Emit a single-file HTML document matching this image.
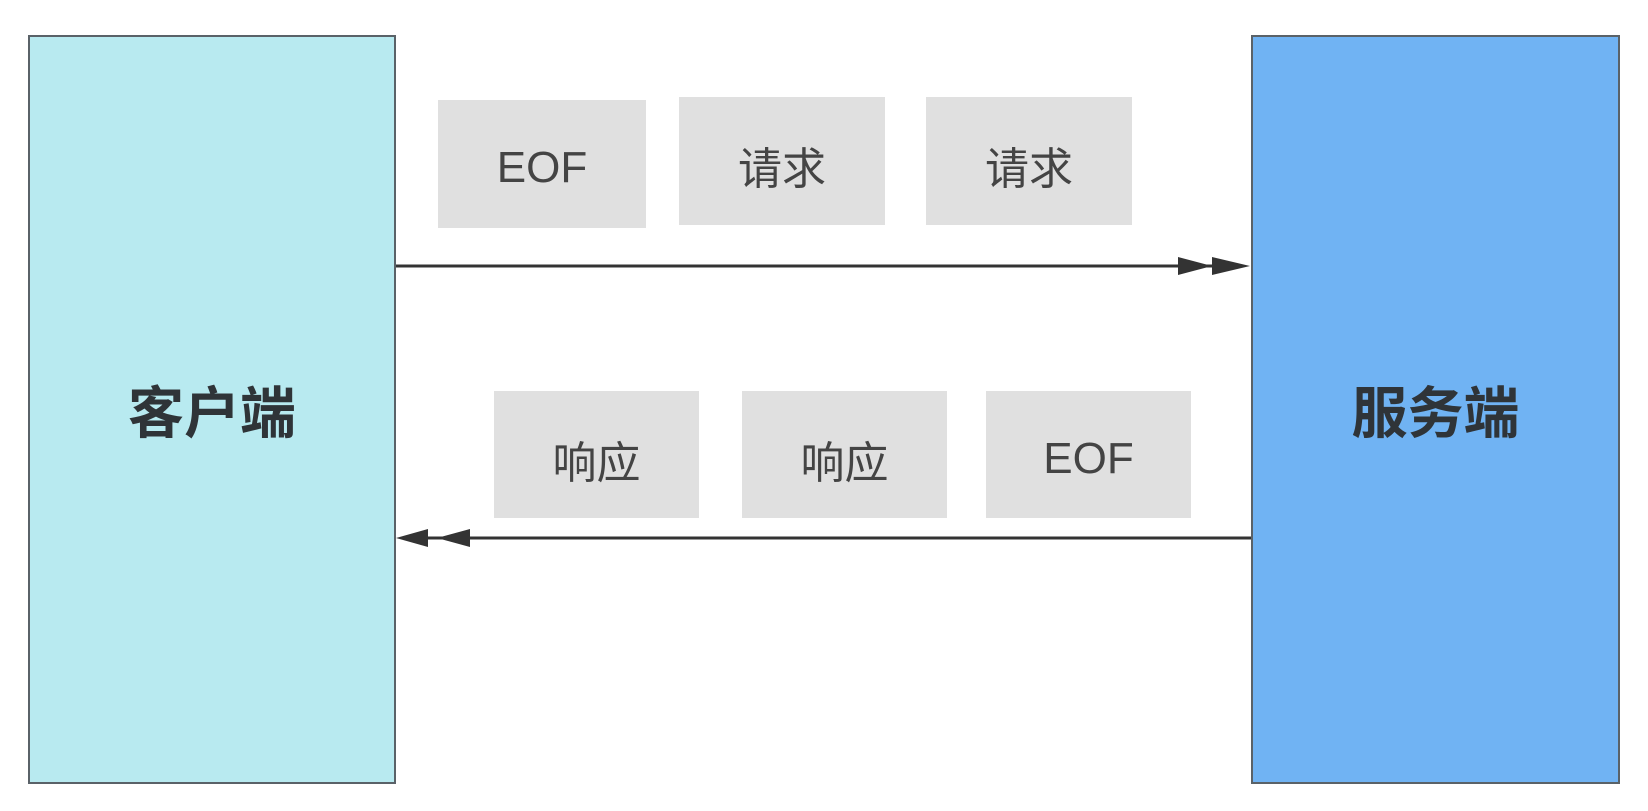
<!DOCTYPE html>
<html><head><meta charset="utf-8"><style>
body{margin:0;width:1648px;height:811px;background:#fff;position:relative;overflow:hidden;font-family:"Liberation Sans","Noto Sans CJK SC",sans-serif}
.b{position:absolute;box-sizing:border-box;border:2px solid #5a6268;display:flex;align-items:center;justify-content:center;font-size:56px;color:#2f3438;font-weight:bold}
.g{position:absolute;background:#e0e0e0;display:flex;align-items:center;justify-content:center;font-size:44px;color:#444;box-sizing:border-box;padding-top:8px}
</style></head><body>
<div class="b" style="left:28px;top:35px;width:368px;height:749px;background:#b8eaf0">客户端</div>
<div class="b" style="left:1251px;top:35px;width:369px;height:749px;background:#70b3f3">服务端</div>
<div class="g" style="left:438px;top:100px;width:208px;height:128px">EOF</div>
<div class="g" style="left:679px;top:97px;width:206px;height:128px">请求</div>
<div class="g" style="left:926px;top:97px;width:206px;height:128px">请求</div>
<div class="g" style="left:494px;top:391px;width:205px;height:127px">响应</div>
<div class="g" style="left:742px;top:391px;width:205px;height:127px">响应</div>
<div class="g" style="left:986px;top:391px;width:205px;height:127px">EOF</div>
<svg width="1648" height="811" style="position:absolute;left:0;top:0">
<line x1="396" y1="266" x2="1240" y2="266" stroke="#333" stroke-width="3"/>
<polygon points="1178,257 1212,266 1178,275" fill="#333"/>
<polygon points="1212,257 1250,266 1212,275" fill="#333"/>
<line x1="410" y1="538" x2="1251" y2="538" stroke="#333" stroke-width="3"/>
<polygon points="396,538 428,529 428,547" fill="#333"/>
<polygon points="437,538 470,529 470,547" fill="#333"/>
</svg>
</body></html>
